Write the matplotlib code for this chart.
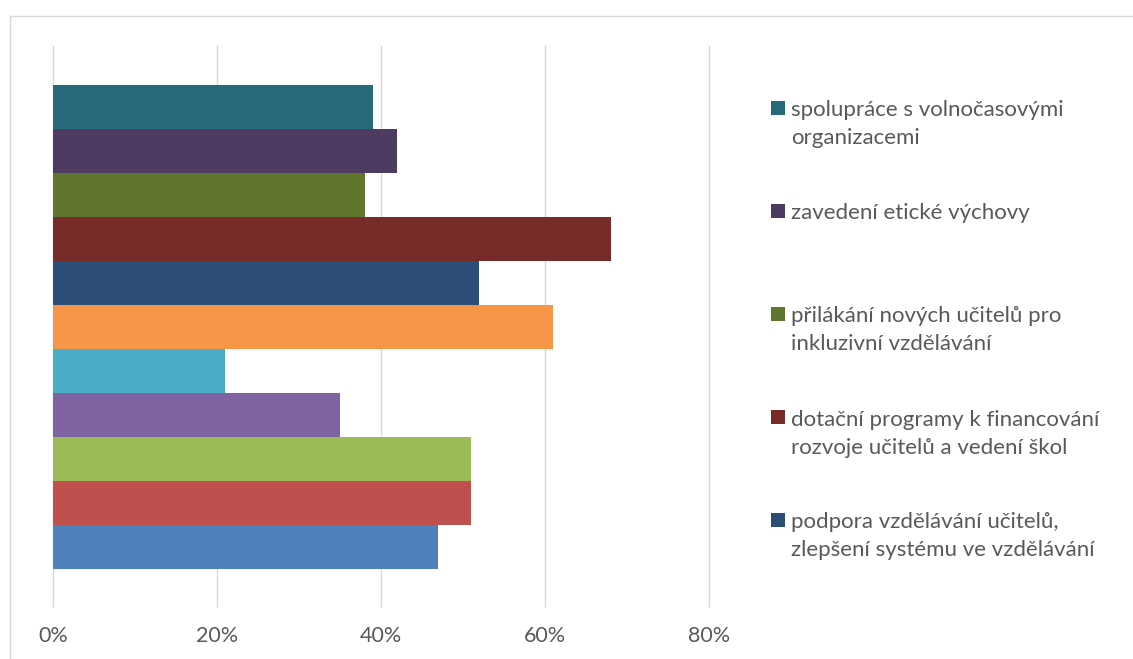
import matplotlib
matplotlib.use("Agg")
import matplotlib.pyplot as plt
from matplotlib.patches import Rectangle
from matplotlib.lines import Line2D

# Share of respondents per measure, listed bottom to top (percent)
values = [47, 51, 51, 35, 21, 61, 52, 68, 38, 42, 39]
colors = ["#4F81BD", "#C0504D", "#9BBB59", "#8064A2", "#4BACC6", "#F79646",
          "#2C4D75", "#772C2A", "#5F7530", "#4D3B62", "#276A7C"]

# Legend entries shown, top to bottom (the last five series)
legend_labels = [
    "spolupráce s volnočasovými\norganizacemi",
    "zavedení etické výchovy",
    "přilákání nových učitelů pro\ninkluzivní vzdělávání",
    "dotační programy k financování\nrozvoje učitelů a vedení škol",
    "podpora vzdělávání učitelů,\nzlepšení systému ve vzdělávání",
]
legend_colors = colors[::-1][:len(legend_labels)]

xticks = [0, 20, 40, 60, 80]
xtick_labels = ["0%", "20%", "40%", "60%", "80%"]

FONT = "Lato"
TEXT_COLOR = "#595959"
GRID_COLOR = "#D9D9D9"

W, H = 1133, 659
fig = plt.figure(figsize=(W / 100, H / 100), dpi=100)
fig.patch.set_facecolor("white")

# plot area in pixels: x 53..709, y 45..607
ax = fig.add_axes([53 / W, (H - 607) / H, 656 / W, 562 / H])
positions = list(range(len(values)))
ax.barh(positions, values, height=1.0, color=colors, linewidth=0, zorder=2)
ax.set_xlim(0, 80)
ax.set_ylim(-0.5 - 38 / 44, len(values) - 0.5 + 40 / 44)

ax.vlines(xticks, 0, 1, transform=ax.get_xaxis_transform(), colors=GRID_COLOR,
          linewidth=1.0, zorder=0, clip_on=False)
ax.set_xticks(xticks)
ax.set_xticklabels(xtick_labels, fontfamily=FONT, fontsize=15.5, color=TEXT_COLOR)
ax.tick_params(axis="x", length=0, pad=14)
ax.set_yticks([])
for s in ax.spines.values():
    s.set_visible(False)

# outer chart frame
fig.add_artist(Line2D([9.5 / W, 9.5 / W], [-0.01, 1 - 15.5 / H],
                      transform=fig.transFigure, color=GRID_COLOR, linewidth=1.0))
fig.add_artist(Line2D([9.5 / W, 1.01], [1 - 15.5 / H, 1 - 15.5 / H],
                      transform=fig.transFigure, color=GRID_COLOR, linewidth=1.0))

# legend drawn as equally spaced slots; baseline of the first line of each entry
first_baseline = 116
slot = 103
line_step = 28.5
for i, (lab, col) in enumerate(zip(legend_labels, legend_colors)):
    base = first_baseline + slot * i
    n_lines = lab.count("\n") + 1
    fig.add_artist(Rectangle((771 / W, 1 - (base - 1) / H), 14 / W, 14 / H,
                             transform=fig.transFigure, facecolor=col,
                             edgecolor="none"))
    fig.text(791 / W, 1 - (base + line_step * (n_lines - 1)) / H, lab,
             fontfamily=FONT, fontsize=16, color=TEXT_COLOR,
             va="baseline", ha="left", linespacing=1.5)

fig.savefig("out.png", dpi=100, facecolor="white")
